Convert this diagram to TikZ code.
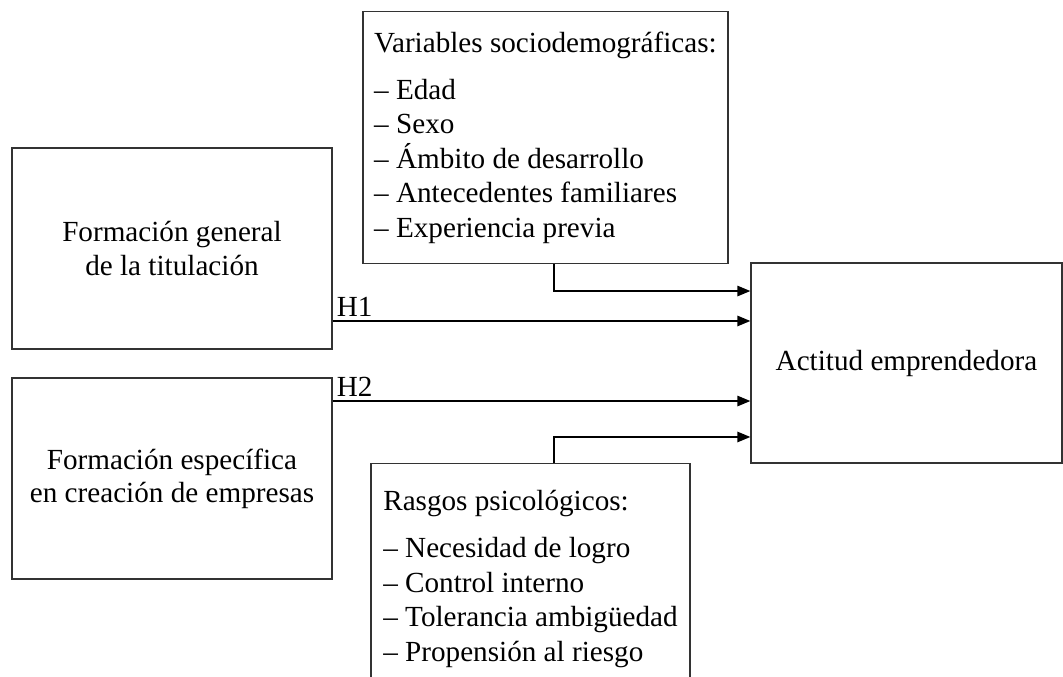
\documentclass[tikz,border=0pt]{standalone}
\usepackage{fontspec}
\setmainfont{Liberation Serif}
\usetikzlibrary{arrows.meta,positioning}

\begin{document}
\begin{tikzpicture}[
x=0.02cm,y=-0.02cm,
box/.style={draw=black!80,line width=0.8pt,minimum width=6.4cm,minimum height=4.02cm,align=center,font=\fontsize{16.6}{18.8}\selectfont},
listbox/.style={draw=black!80,line width=0.8pt,align=left,font=\fontsize{16.6}{19.6}\selectfont},
arrow/.style={-{Triangle[length=2.6mm,width=2.1mm]},line width=0.8pt},
hlabel/.style={pos=0,above right,inner sep=2pt,font=\fontsize{16.6}{19}\selectfont}
]
\useasboundingbox (0,0) rectangle (1063,677);
\clip (0,0) rectangle (1063,677);

\node[box] (general) at (172,248.5) {Formación general\\de la titulación};
\node[box] (especifica) at (172,478.5) {Formación específica\\en creación de empresas};
\node[box,minimum width=6.22cm,minimum height=4cm] (actitud) at (906.5,363) {Actitud emprendedora};

\node[listbox,anchor=north,minimum width=7.3cm,minimum height=5.04cm] (socio) at (545.5,11)
  {Variables sociodemográficas:\\[7pt]
   -- Edad\\ -- Sexo\\ -- Ámbito de desarrollo\\ -- Antecedentes familiares\\ -- Experiencia previa};
\node[listbox,anchor=north,minimum width=6.38cm,inner ysep=0.54cm] (rasgos) at (530.5,463)
  {Rasgos psicológicos:\\[7pt]
   -- Necesidad de logro\\ -- Control interno\\ -- Tolerancia ambigüedad\\ -- Propensión al riesgo};

\draw[arrow] ([xshift=0.17cm]socio.south) |- ([yshift=1.44cm]actitud.west);
\draw[arrow] ([yshift=-1.45cm]general.east) -- node[hlabel]{H1} ([yshift=-1.45cm]general.east -| actitud.west);
\draw[arrow] ([yshift=1.55cm]especifica.east) -- node[hlabel]{H2} ([yshift=1.55cm]especifica.east -| actitud.west);
\draw[arrow] ([xshift=0.47cm]rasgos.north) |- ([yshift=-1.48cm]actitud.west);
\end{tikzpicture}
\end{document}
